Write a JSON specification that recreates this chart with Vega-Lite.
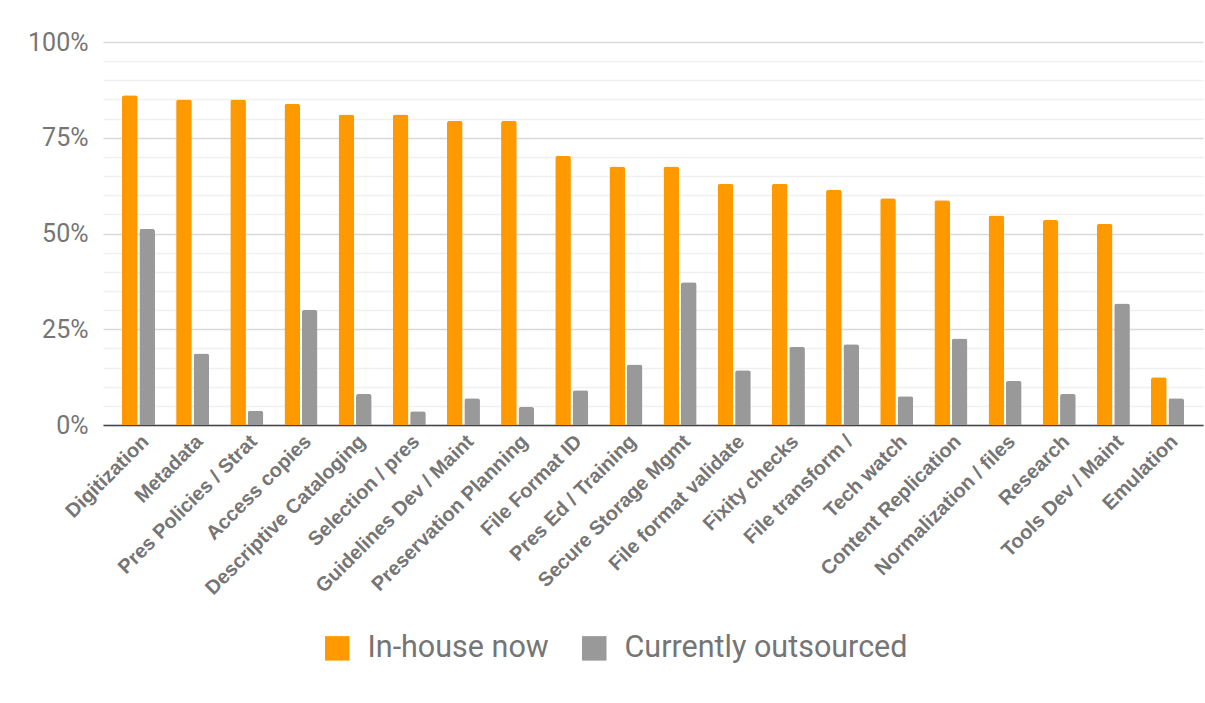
{
  "$schema": "https://vega.github.io/schema/vega-lite/v6.json",
  "autosize": "none",
  "width": 1100,
  "height": 383,
  "padding": {"left": 103, "top": 42, "right": 2, "bottom": 278},
  "background": "white",
  "config": {
    "view": {"stroke": null},
    "font": "Roboto"
  },
  "data": {
    "values": [
      {"task": "Digitization", "series": "In-house now", "value": 86.1},
      {"task": "Digitization", "series": "Currently outsourced", "value": 51.2},
      {"task": "Metadata", "series": "In-house now", "value": 85.0},
      {"task": "Metadata", "series": "Currently outsourced", "value": 18.7},
      {"task": "Pres Policies / Strat", "series": "In-house now", "value": 85.0},
      {"task": "Pres Policies / Strat", "series": "Currently outsourced", "value": 3.7},
      {"task": "Access copies", "series": "In-house now", "value": 83.9},
      {"task": "Access copies", "series": "Currently outsourced", "value": 30.0},
      {"task": "Descriptive Cataloging", "series": "In-house now", "value": 81.1},
      {"task": "Descriptive Cataloging", "series": "Currently outsourced", "value": 8.1},
      {"task": "Selection / pres", "series": "In-house now", "value": 81.1},
      {"task": "Selection / pres", "series": "Currently outsourced", "value": 3.6},
      {"task": "Guidelines Dev / Maint", "series": "In-house now", "value": 79.4},
      {"task": "Guidelines Dev / Maint", "series": "Currently outsourced", "value": 7.0},
      {"task": "Preservation Planning", "series": "In-house now", "value": 79.4},
      {"task": "Preservation Planning", "series": "Currently outsourced", "value": 4.7},
      {"task": "File Format ID", "series": "In-house now", "value": 70.3},
      {"task": "File Format ID", "series": "Currently outsourced", "value": 9.1},
      {"task": "Pres Ed / Training", "series": "In-house now", "value": 67.5},
      {"task": "Pres Ed / Training", "series": "Currently outsourced", "value": 15.8},
      {"task": "Secure Storage Mgmt", "series": "In-house now", "value": 67.5},
      {"task": "Secure Storage Mgmt", "series": "Currently outsourced", "value": 37.3},
      {"task": "File format validate", "series": "In-house now", "value": 63.0},
      {"task": "File format validate", "series": "Currently outsourced", "value": 14.3},
      {"task": "Fixity checks", "series": "In-house now", "value": 63.0},
      {"task": "Fixity checks", "series": "Currently outsourced", "value": 20.4},
      {"task": "File transform /", "series": "In-house now", "value": 61.4},
      {"task": "File transform /", "series": "Currently outsourced", "value": 21.1},
      {"task": "Tech watch", "series": "In-house now", "value": 59.2},
      {"task": "Tech watch", "series": "Currently outsourced", "value": 7.5},
      {"task": "Content Replication", "series": "In-house now", "value": 58.7},
      {"task": "Content Replication", "series": "Currently outsourced", "value": 22.6},
      {"task": "Normalization / files", "series": "In-house now", "value": 54.7},
      {"task": "Normalization / files", "series": "Currently outsourced", "value": 11.5},
      {"task": "Research", "series": "In-house now", "value": 53.5},
      {"task": "Research", "series": "Currently outsourced", "value": 8.1},
      {"task": "Tools Dev / Maint", "series": "In-house now", "value": 52.5},
      {"task": "Tools Dev / Maint", "series": "Currently outsourced", "value": 31.7},
      {"task": "Emulation", "series": "In-house now", "value": 12.5},
      {"task": "Emulation", "series": "Currently outsourced", "value": 7.0}
    ]
  },
  "mark": {"type": "bar", "cornerRadiusTopLeft": 2.5, "cornerRadiusTopRight": 2.5},
  "encoding": {
    "x": {
      "field": "task",
      "type": "nominal",
      "sort": null,
      "scale": {"paddingInner": 0.39, "paddingOuter": 0.35},
      "axis": {
        "title": null,
        "labelAngle": -45,
        "labelFont": "Liberation Sans",
        "labelFontWeight": "bold",
        "labelFontSize": 20,
        "labelColor": "#757575",
        "labelPadding": 6,
        "labelLimit": 400,
        "ticks": false,
        "domainColor": "#444444",
        "domainWidth": 1.5,
        "grid": false
      }
    },
    "xOffset": {
      "field": "series",
      "type": "nominal",
      "sort": ["In-house now", "Currently outsourced"],
      "scale": {"paddingInner": 0.1}
    },
    "y": {
      "field": "value",
      "type": "quantitative",
      "scale": {"domain": [0, 100], "nice": false},
      "axis": {
        "title": null,
        "values": [0, 5, 10, 15, 20, 25, 30, 35, 40, 45, 50, 55, 60, 65, 70, 75, 80, 85, 90, 95, 100],
        "labelExpr": "datum.value % 25 === 0 ? datum.value + '%' : ''",
        "labelFont": "Roboto",
        "labelFontSize": 25,
        "labelColor": "#757575",
        "labelPadding": 15,
        "ticks": false,
        "domain": false,
        "gridColor": {"condition": {"test": "datum.value % 25 === 0", "value": "#d9d9d9"}, "value": "#f0f0f0"},
        "gridWidth": 1.5
      }
    },
    "color": {
      "field": "series",
      "type": "nominal",
      "scale": {"domain": ["In-house now", "Currently outsourced"], "range": ["#ff9900", "#999999"]},
      "legend": {
        "title": null,
        "orient": "none",
        "legendX": 219,
        "legendY": 591,
        "direction": "horizontal",
        "symbolType": "square",
        "symbolSize": 600,
        "symbolStrokeWidth": 0,
        "labelFont": "Roboto",
        "labelFontSize": 30.5,
        "labelColor": "#757575",
        "labelOffset": 15,
        "columnPadding": 30,
        "labelLimit": 400
      }
    }
  }
}
